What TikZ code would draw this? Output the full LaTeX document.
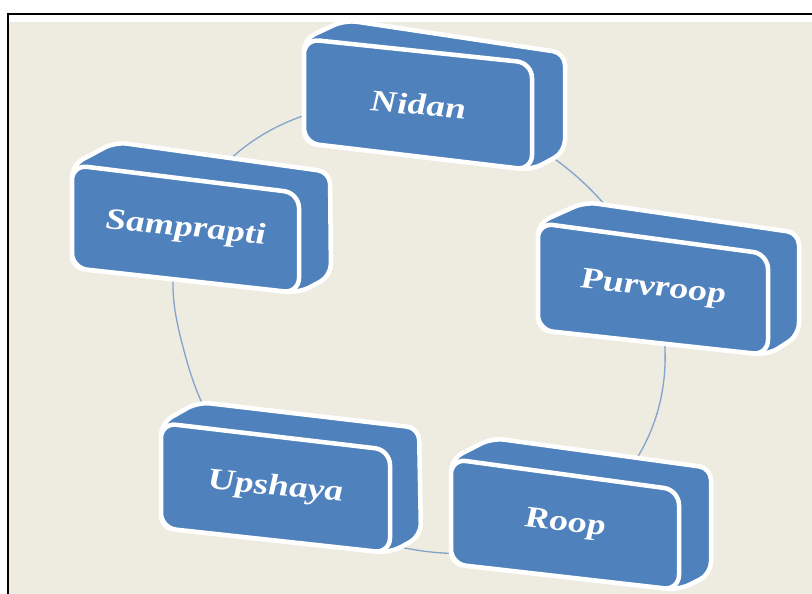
\documentclass[tikz,border=0pt]{standalone}
\usepackage{fontspec}
\setmainfont{Liberation Serif}
\usetikzlibrary{calc,hobby}

\definecolor{slabblue}{RGB}{79,129,189}
\definecolor{paper}{RGB}{238,236,225}
\definecolor{ringblue}{RGB}{130,163,204}

\tikzset{
  slabbody/.style={fill=slabblue, draw=white, line width=4.5pt, rounded corners=12pt, line join=round},
  slabface/.style={fill=slabblue, draw=white, line width=4.5pt, rounded corners=15pt, line join=round},
  slabtext/.style={text=white, font=\fontsize{30}{36}\selectfont\bfseries\itshape, inner sep=0pt, xscale=1.25},
  ringline/.style={draw=ringblue, line width=1.3pt},
}

% #1 prefix of the corner coordinates, #2 label, #3 slope of the front face
\newcommand\drawslab[3]{%
  \path[slabbody] (#1-fbl) -- (#1-ftl) -- (#1-btl) -- (#1-btr) -- (#1-bbr) -- (#1-fbr) -- cycle;
  \path[slabface] (#1-ftl) -- (#1-ftr) -- (#1-fbr) -- (#1-fbl) -- cycle;
  \node[slabtext, yslant=-#3] (#1) at ($(#1-ftl)!0.5!(#1-fbr)$) {#2};
}

\begin{document}
\begin{tikzpicture}[x=1pt, y=-1pt]
  \useasboundingbox (0,0) rectangle (812,594);
  \fill[white] (0,0) rectangle (812,594);
  \fill[paper] (8.5,22.5) rectangle (812,594);
  \draw[black, line width=2pt] (6.7,14) -- (812,14);
  \draw[black, line width=2pt] (7.7,13) -- (7.7,594);

  % corner coordinates of the five slabs: front face, then back edge
  \coordinate (n-ftl) at (304,39);  \coordinate (n-ftr) at (532,63);
  \coordinate (n-fbr) at (532,170); \coordinate (n-fbl) at (304,143);
  \coordinate (n-btl) at (345,20);  \coordinate (n-btr) at (565,53);
  \coordinate (n-bbr) at (565,152);

  \coordinate (p-ftl) at (538,223); \coordinate (p-ftr) at (768,254);
  \coordinate (p-fbr) at (768,355); \coordinate (p-fbl) at (538,330);
  \coordinate (p-btl) at (585,202); \coordinate (p-btr) at (799,233);
  \coordinate (p-bbr) at (799,335);

  \coordinate (r-ftl) at (451,459); \coordinate (r-ftr) at (679,490);
  \coordinate (r-fbr) at (679,590); \coordinate (r-fbl) at (451,564);
  \coordinate (r-btl) at (492,438); \coordinate (r-btr) at (711,468);
  \coordinate (r-bbr) at (711,574);

  \coordinate (u-ftl) at (161,423); \coordinate (u-ftr) at (390,450);
  \coordinate (u-fbr) at (390,553); \coordinate (u-fbl) at (161,528);
  \coordinate (u-btl) at (198,402); \coordinate (u-btr) at (419,428);
  \coordinate (u-bbr) at (421,536);

  \coordinate (s-ftl) at (72,165);  \coordinate (s-ftr) at (299,193);
  \coordinate (s-fbr) at (299,293); \coordinate (s-fbl) at (72,268);
  \coordinate (s-btl) at (115,142); \coordinate (s-btr) at (330,172);
  \coordinate (s-bbr) at (331,276);

  % the cycle ring running behind the slabs
  \draw[ringline, use Hobby shortcut, closed=true]
    (250,143) .. (300,117) .. (552,157) .. (605,205) .. (665,350) .. (637,458)
    .. (443,553) .. (400,547) .. (202,403) .. (183,347) .. (173,288);

  \drawslab{n}{Nidan}{0.105}
  \drawslab{p}{Purvroop}{0.135}
  \drawslab{r}{Roop}{0.136}
  \drawslab{u}{Upshaya}{0.118}
  \drawslab{s}{Samprapti}{0.123}
\end{tikzpicture}
\end{document}
